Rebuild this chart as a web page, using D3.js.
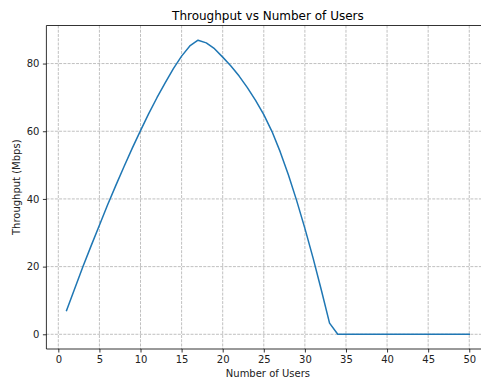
<!DOCTYPE html>
<html>
<head>
<meta charset="utf-8">
<script src="https://cdn.jsdelivr.net/npm/d3@7"></script>
<style>
  html, body { margin: 0; padding: 0; background: #fff; }
  svg { display: block; font-family: "DejaVu Sans", sans-serif; }
</style>
</head>
<body>
<svg id="chart" width="481" height="381"></svg>
<script>
const users = d3.range(1, 51);
const throughput = [
  7.0, 13.5, 20.0, 26.2, 32.2, 38.3, 44.0, 49.6, 55.0, 60.2,
  65.2, 69.9, 74.3, 78.5, 82.2, 85.2, 86.9, 86.1, 84.4, 81.9,
  79.3, 76.3, 72.9, 69.1, 64.9, 59.9, 53.9, 47.1, 39.5, 31.3,
  22.5, 13.1, 3.3, 0, 0, 0, 0, 0, 0, 0,
  0, 0, 0, 0, 0, 0, 0, 0, 0, 0
];
const xTicks = [0, 5, 10, 15, 20, 25, 30, 35, 40, 45, 50];
const yTicks = [0, 20, 40, 60, 80];
const titleText = "Throughput vs Number of Users";
const xLabel = "Number of Users";
const yLabel = "Throughput (Mbps)";

(function () {
const svg = d3.select("#chart");
const pL = 46.4, pR = 489.4, pT = 25.5, pB = 349;

const xmin = d3.min(users), xmax = d3.max(users);
const xm = (xmax - xmin) * 0.05;
const ymin = d3.min(throughput), ymax = d3.max(throughput);
const ym = (ymax - ymin) * 0.05;

const x = d3.scaleLinear().domain([xmin - xm, xmax + xm]).range([pL, pR]);
const y = d3.scaleLinear().domain([ymin - ym, ymax + ym]).range([pB, pT]);

// grid
const grid = svg.append("g");
grid.selectAll(".gx").data(xTicks).join("line")
  .attr("x1", d => x(d)).attr("x2", d => x(d))
  .attr("y1", pT).attr("y2", pB)
  .attr("stroke", "#b0b0b0").attr("stroke-width", 0.8)
  .attr("stroke-dasharray", "2.96,1.28");
grid.selectAll(".gy").data(yTicks).join("line")
  .attr("x1", pL).attr("x2", pR)
  .attr("y1", d => y(d)).attr("y2", d => y(d))
  .attr("stroke", "#b0b0b0").attr("stroke-width", 0.8)
  .attr("stroke-dasharray", "2.96,1.28");

// line
const line = d3.line().x((d, i) => x(users[i])).y(d => y(d));
svg.append("path").datum(throughput)
  .attr("d", line)
  .attr("fill", "none")
  .attr("stroke", "#1f77b4")
  .attr("stroke-width", 1.5)
  .attr("stroke-linejoin", "round")
  .attr("stroke-linecap", "square");

// axes
const xAxis = d3.axisBottom(x).tickValues(xTicks).tickSize(3.5).tickPadding(3.5).tickFormat(d3.format("d"));
const yAxis = d3.axisLeft(y).tickValues(yTicks).tickSize(3.5).tickPadding(3.5).tickFormat(d3.format("d"));

const gx = svg.append("g").attr("transform", `translate(0,${pB})`).call(xAxis);
const gy = svg.append("g").attr("transform", `translate(${pL},0)`).call(yAxis);
[gx, gy].forEach(g => {
  g.select(".domain").remove();
  g.selectAll(".tick line").attr("stroke", "#000").attr("stroke-width", 0.8);
  g.selectAll(".tick text").attr("fill", "#222").style("font-size", "10px")
    .style("font-family", "'DejaVu Sans', sans-serif");
});

// spines
const spine = (x1, y1, x2, y2) => svg.append("line")
  .attr("x1", x1).attr("y1", y1).attr("x2", x2).attr("y2", y2)
  .attr("stroke", "#000").attr("stroke-width", 0.8);
spine(pL, pT, pL, pB);
spine(pL, pB, pR, pB);
spine(pL, pT, pR, pT);
spine(pR, pT, pR, pB);

// labels
const cx = (pL + pR) / 2;
svg.append("text").attr("x", cx).attr("y", 20)
  .attr("text-anchor", "middle").style("font-size", "12px").attr("fill", "#000")
  .text(titleText);
svg.append("text").attr("x", cx).attr("y", 377)
  .attr("text-anchor", "middle").style("font-size", "10px").attr("fill", "#222")
  .text(xLabel);
svg.append("text")
  .attr("transform", `translate(19.5,${(pT + pB) / 2}) rotate(-90)`)
  .attr("text-anchor", "middle").style("font-size", "10px").attr("fill", "#222")
  .text(yLabel);
})();
</script>
</body>
</html>
